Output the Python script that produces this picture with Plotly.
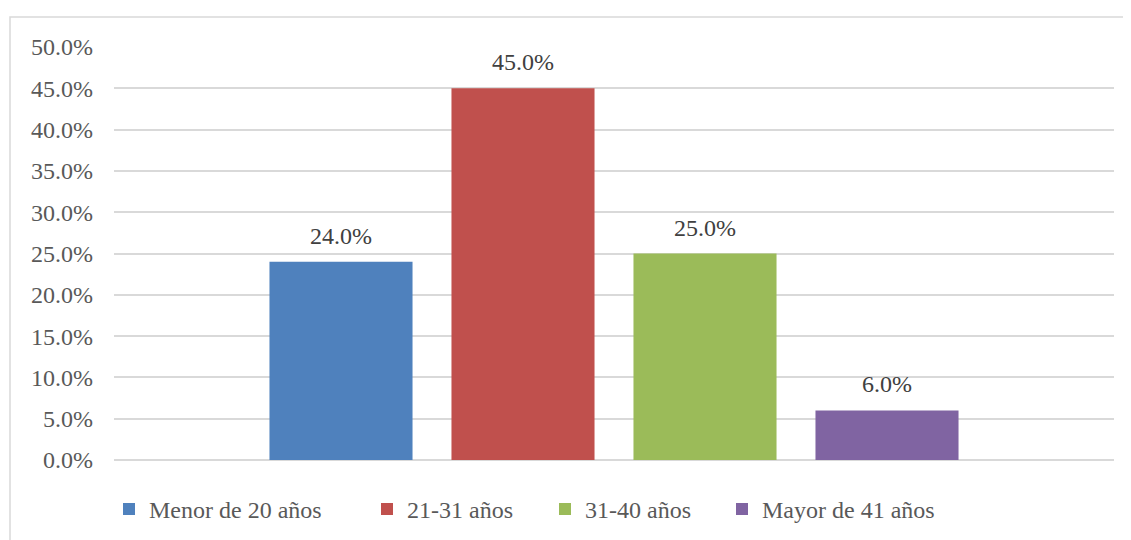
import plotly.graph_objects as go

series = ["Menor de 20 años", "21-31 años", "31-40 años", "Mayor de 41 años"]
values = [0.24, 0.45, 0.25, 0.06]
colors = ["#4F81BD", "#C0504D", "#9BBB59", "#8064A2"]
category = [""]
legend_x = [-0.005, 0.253, 0.431, 0.608]

FONT = "Liberation Serif"
GRAY = "#595959"
FS = 24
BARGAP = 0.272
GROUPGAP = 0.214

fig = go.Figure()
for i, (name, v, c) in enumerate(zip(series, values, colors)):
    lg = "legend" if i == 0 else f"legend{i + 1}"
    fig.add_trace(go.Bar(
        x=[0], y=[v], name=name, marker=dict(color=c, line=dict(width=0)),
        legend=lg,
    ))

# data labels above each bar (positioned at each bar's slot centre within the group)
n = len(series)
slot = (1 - BARGAP) / n
for i, v in enumerate(values):
    xc = -(1 - BARGAP) / 2 + slot * (i + 0.5)
    fig.add_annotation(x=xc, y=v, xref="x", yref="y", text=f"{v:.1%}", showarrow=False,
                       yanchor="bottom", yshift=11,
                       font=dict(family=FONT, size=FS, color="#404040"))

layout_legends = {}
for i, lx in enumerate(legend_x):
    key = "legend" if i == 0 else f"legend{i + 1}"
    layout_legends[key] = dict(orientation="h", x=lx, xanchor="left", y=-0.065, yanchor="top",
                               font=dict(family=FONT, size=FS, color=GRAY),
                               bgcolor="rgba(0,0,0,0)", itemwidth=30)

fig.update_layout(
    width=1131, height=540,
    margin=dict(l=106, r=25, t=39, b=88),
    paper_bgcolor="white", plot_bgcolor="white",
    barmode="group", bargap=BARGAP, bargroupgap=GROUPGAP,
    font=dict(family=FONT, size=FS, color=GRAY),
    showlegend=True,
    yaxis=dict(range=[0, 0.5], dtick=0.05, tickformat=".1%", showgrid=True,
               gridcolor="#D9D9D9", gridwidth=1.5, zeroline=True, zerolinecolor="#D9D9D9",
               zerolinewidth=1.5, showline=False, ticks="", ticklabelstandoff=20,
               tickfont=dict(family=FONT, size=FS, color=GRAY)),
    xaxis=dict(range=[-0.5, 0.5], showticklabels=False, showgrid=False, zeroline=False,
               showline=False, ticks=""),
    **layout_legends,
)

fig.add_shape(type="rect", xref="paper", yref="paper",
              x0=-0.104, x1=1.05, y0=-0.25, y1=(459 - 16) / 413,
              line=dict(color="#D9D9D9", width=1.5), fillcolor="rgba(0,0,0,0)", layer="below")

fig.write_html("out.html")
